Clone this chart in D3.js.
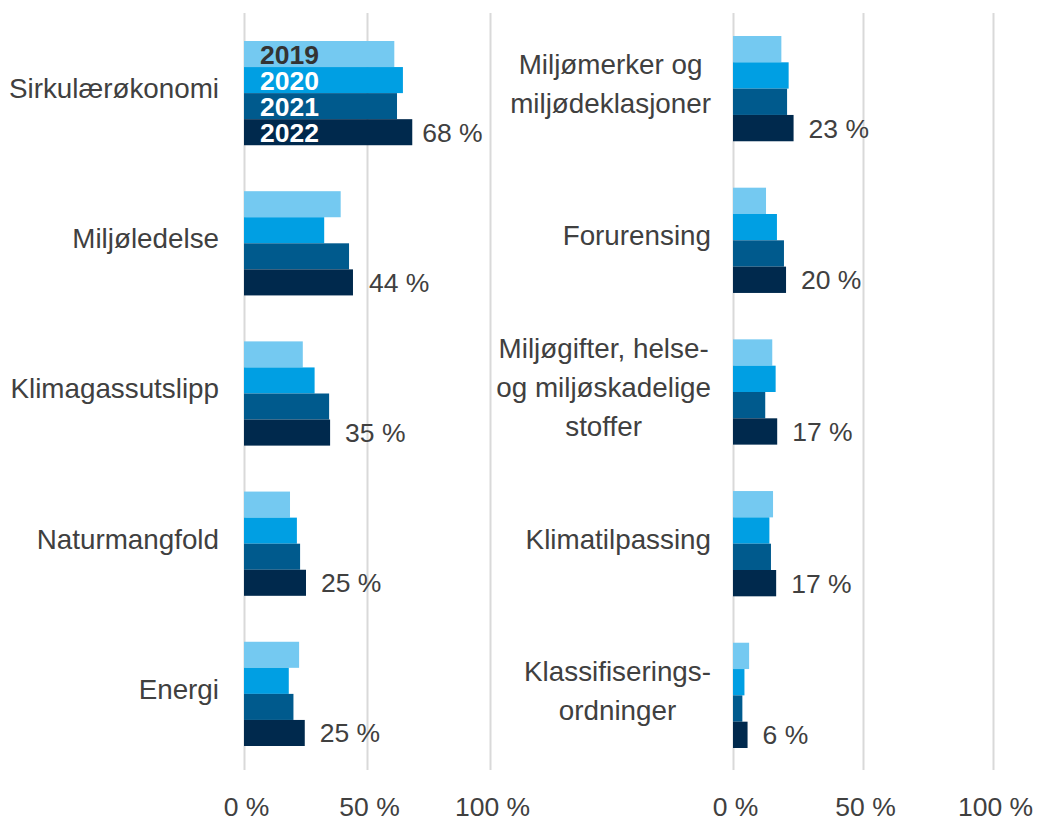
<!DOCTYPE html>
<html>
<head>
<meta charset="utf-8">
<script src="https://cdn.jsdelivr.net/npm/d3@7"></script>
<style>
  body { margin: 0; background: #fff; }
  svg { display: block; font-family: "Liberation Sans", Arial, sans-serif; }
</style>
</head>
<body>
<svg id="chart" width="1037" height="821"></svg>
<script>
// år (serier)
const years = ["2019", "2020", "2021", "2022"];
const yearColors = ["#74c9f1", "#009fe3", "#005a8d", "#00294d"];

// venstre panel
const leftCategories = ["Sirkulærøkonomi", "Miljøledelse", "Klimagassutslipp", "Naturmangfold", "Energi"];
const left2019 = [61.1, 39.3, 23.9, 18.7, 22.4];
const left2020 = [64.6, 32.6, 28.7, 21.5, 18.2];
const left2021 = [62.2, 42.7, 34.6, 22.8, 20.1];
const left2022 = [68.4, 44.3, 35.0, 25.2, 24.7];

// høyre panel
const rightCategories = [
    "Miljømerker og\nmiljødeklasjoner",
    "Forurensing",
    "Miljøgifter, helse-\nog miljøskadelige\nstoffer",
    "Klimatilpassing",
    "Klassifiserings-\nordninger"
];
const right2019 = [18.6, 12.7, 15.1, 15.4, 6.2];
const right2020 = [21.4, 16.9, 16.4, 14.0, 4.4];
const right2021 = [20.8, 19.6, 12.4, 14.6, 3.6];
const right2022 = [23.3, 20.4, 17.0, 16.6, 5.6];

const tickValues = [0, 50, 100];

const svg = d3.select("#chart");
const fontSize = 26.5, labelSize = 27.8, textColor = "#404040";
const gridTop = 13, gridBottom = 770;

function drawPanel(opts) {
    const g = svg.append("g");
    const x = d3.scaleLinear().domain([0, 100]).range(opts.xRange);
    const y0 = d3.scaleBand().domain(opts.categories).range(opts.yRange)
        .paddingInner(0.306).paddingOuter(0);
    const y1 = d3.scaleBand().domain(years).range([0, y0.bandwidth()]);

    // rutenett + akse
    const axis = d3.axisBottom(x).tickValues(tickValues)
        .tickSize(-(gridBottom - gridTop)).tickFormat(d => d + " %");
    const ax = g.append("g").attr("transform", `translate(0,${gridBottom})`).call(axis);
    ax.select(".domain").remove();
    ax.selectAll(".tick line").attr("stroke", "#d9d9d9").attr("stroke-width", 2);
    ax.selectAll(".tick text")
        .attr("y", 46).attr("dy", null).attr("x", 2)
        .attr("fill", textColor).style("font-size", fontSize + "px")
        .style("font-family", "'Liberation Sans', Arial, sans-serif");

    const rows = opts.categories.map((c, i) => ({
        cat: c,
        vals: opts.series.map(s => s[i])
    }));

    const grp = g.selectAll("g.cat").data(rows).enter().append("g")
        .attr("class", "cat")
        .attr("transform", d => `translate(0,${y0(d.cat)})`);

    grp.selectAll("rect").data(d => d.vals.map((v, j) => ({year: years[j], v: v, j: j})))
        .enter().append("rect")
        .attr("x", x(0))
        .attr("y", d => y1(d.year))
        .attr("width", d => x(d.v) - x(0))
        .attr("height", y1.bandwidth())
        .attr("fill", d => yearColors[d.j]);

    // verdi for 2022
    grp.append("text")
        .attr("x", (d, i) => x(d.vals[3]) + (opts.valueGap ? opts.valueGap[i] : 15))
        .attr("y", y1("2022") + y1.bandwidth() / 2 + 9.5)
        .attr("fill", textColor)
        .style("font-size", fontSize + "px")
        .text(d => Math.round(d.vals[3]) + " %");

    // kategorietiketter
    grp.each(function(d) {
        const lines = d.cat.split("\n");
        const lh = 39;
        const cy = y0.bandwidth() / 2 + 5;
        const t = d3.select(this).append("text")
            .attr("fill", textColor).style("font-size", labelSize + "px");
        lines.forEach((l, k) => {
            t.append("tspan").attr("y", cy + (k - (lines.length - 1) / 2) * lh).text(l);
        });
        if (lines.length === 1) {
            t.attr("text-anchor", "end").selectAll("tspan").attr("x", opts.labelRight);
        } else {
            let w = 0;
            t.selectAll("tspan").each(function() { w = Math.max(w, this.getComputedTextLength()); });
            t.attr("text-anchor", "middle").selectAll("tspan").attr("x", opts.labelRight - w / 2);
        }
    });

    return {x: x, y0: y0, y1: y1, grp: grp};
}

const left = drawPanel({
    categories: leftCategories,
    series: [left2019, left2020, left2021, left2022],
    xRange: [244, 490],
    yRange: [41, 746],
    labelRight: 219,
    valueGap: [10, 16, 15, 15, 15]
});

drawPanel({
    categories: rightCategories,
    series: [right2019, right2020, right2021, right2022],
    xRange: [733, 993],
    yRange: [36, 748],
    labelRight: 711
});

// årstall som forklaring i første gruppe
const first = left.y0(leftCategories[0]);
svg.append("g").selectAll("text").data(years).enter().append("text")
    .attr("x", 260)
    .attr("y", d => first + left.y1(d) + left.y1.bandwidth() / 2 + 9.5)
    .attr("fill", (d, i) => i === 0 ? "#333333" : "#ffffff")
    .style("font-size", fontSize + "px")
    .style("font-weight", "bold")
    .text(d => d);
</script>
</body>
</html>
